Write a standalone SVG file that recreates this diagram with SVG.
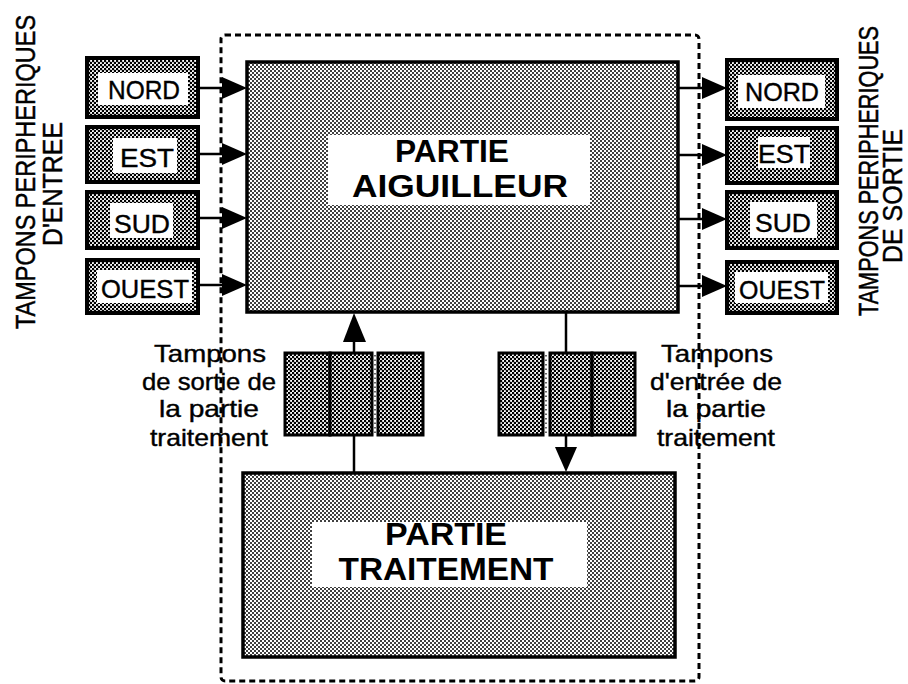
<svg xmlns="http://www.w3.org/2000/svg" width="908" height="684" viewBox="0 0 908 684">
<defs>
<pattern id="lt" width="4" height="4" patternUnits="userSpaceOnUse"><rect width="4" height="4" fill="#fff"/><circle cx="1" cy="1" r="1" fill="#000"/><circle cx="3" cy="3" r="1" fill="#000"/></pattern>
<pattern id="dk" width="4" height="4" patternUnits="userSpaceOnUse"><rect width="4" height="4" fill="#fff"/><circle cx="1" cy="1" r="1.3" fill="#000"/><circle cx="3" cy="3" r="1.3" fill="#000"/></pattern>
<style>
.big{fill:url(#lt);stroke:#000;stroke-width:3.5}
.buf{fill:url(#dk);stroke:#000;stroke-width:4}
.sb{fill:url(#dk);stroke:#000;stroke-width:3}
.win{fill:#fff}
.t{font-family:"Liberation Sans",Arial,sans-serif;fill:#000;stroke:#000;stroke-width:0.4}
.bt{font-family:"Liberation Sans",Arial,sans-serif;font-weight:bold;font-size:32px;fill:#000;text-anchor:middle}
.lb{font-size:24px;text-anchor:middle}
.bl{font-size:26px;text-anchor:middle}
.vt{font-size:21.7px;text-anchor:middle}
.vl{font-size:23.5px;text-anchor:middle}
.vs{font-size:25px;text-anchor:middle}
.ln{stroke:#000;stroke-width:2.5;fill:none}
.ah{fill:#000}
.dash{fill:none;stroke:#000;stroke-width:3;stroke-dasharray:6 4}
.dot{stroke:#000;stroke-width:1.2;stroke-dasharray:1.5 3}
</style>
</defs>
<rect width="908" height="684" fill="#fff"/>

<g id="boundary"><rect class="dash" x="221" y="35" width="478" height="646" rx="4"/></g>

<g id="aiguilleur">
<rect class="big" x="247" y="62" width="431" height="250"/>
<rect class="win" x="328" y="135" width="262" height="70"/>
<text class="bt" x="452" y="162" textLength="114" lengthAdjust="spacingAndGlyphs">PARTIE</text>
<text class="bt" x="460" y="197" textLength="216" lengthAdjust="spacingAndGlyphs">AIGUILLEUR</text>
</g>

<g id="traitement">
<rect class="big" x="243" y="473" width="432" height="184"/>
<rect class="win" x="312" y="522" width="275" height="65"/>
<text class="bt" x="446" y="545" textLength="122" lengthAdjust="spacingAndGlyphs">PARTIE</text>
<text class="bt" x="446" y="580" textLength="215" lengthAdjust="spacingAndGlyphs">TRAITEMENT</text>
</g>

<g id="in-nord"><rect class="buf" x="87" y="58" width="111" height="59"/><rect class="win" x="98" y="73" width="90" height="32"/><text class="t bl" x="144" y="99" textLength="72" lengthAdjust="spacingAndGlyphs">NORD</text></g>
<g id="in-est"><rect class="buf" x="87" y="127" width="111" height="55"/><rect class="win" x="113" y="138" width="64" height="35"/><text class="t bl" x="147" y="167" textLength="54" lengthAdjust="spacingAndGlyphs">EST</text></g>
<g id="in-sud"><rect class="buf" x="87" y="192" width="111" height="56"/><rect class="win" x="110" y="203" width="63" height="35"/><text class="t bl" x="142" y="233" textLength="56" lengthAdjust="spacingAndGlyphs">SUD</text></g>
<g id="in-ouest"><rect class="buf" x="87" y="260" width="111" height="53"/><rect class="win" x="97" y="270" width="95" height="33"/><text class="t bl" x="145" y="298" textLength="88" lengthAdjust="spacingAndGlyphs">OUEST</text></g>

<g id="out-nord"><rect class="buf" x="727" y="60" width="110" height="59"/><rect class="win" x="738" y="75" width="87" height="33"/><text class="t bl" x="782" y="101" textLength="74" lengthAdjust="spacingAndGlyphs">NORD</text></g>
<g id="out-est"><rect class="buf" x="727" y="128" width="110" height="55"/><rect class="win" x="758" y="137" width="52" height="31"/><text class="t bl" x="784" y="163" textLength="52" lengthAdjust="spacingAndGlyphs">EST</text></g>
<g id="out-sud"><rect class="buf" x="727" y="192" width="110" height="56"/><rect class="win" x="750" y="202" width="67" height="36"/><text class="t bl" x="783" y="232" textLength="56" lengthAdjust="spacingAndGlyphs">SUD</text></g>
<g id="out-ouest"><rect class="buf" x="727" y="262" width="110" height="51"/><rect class="win" x="735" y="272" width="93" height="31"/><text class="t bl" x="782" y="299" textLength="86" lengthAdjust="spacingAndGlyphs">OUEST</text></g>

<g id="tampons-sortie-traitement">
<rect class="sb" x="285" y="353" width="45" height="82"/>
<rect class="sb" x="330" y="353" width="42" height="82"/>
<line class="dot" x1="375" y1="355" x2="375" y2="433"/>
<rect class="sb" x="378" y="353" width="45" height="82"/>
</g>
<g id="tampons-entree-traitement">
<rect class="sb" x="499" y="353" width="44" height="82"/>
<line class="dot" x1="546" y1="355" x2="546" y2="433"/>
<rect class="sb" x="550" y="353" width="42" height="82"/>
<rect class="sb" x="592" y="353" width="43" height="82"/>
</g>

<g id="labels">
<g id="label-entree">
<text class="t vl" transform="translate(35,172) rotate(-90) scale(1,1.15)">TAMPONS PERIPHERIQUES</text>
<text class="t vs" transform="translate(62,184) rotate(-90) scale(1,1.1)">D'ENTREE</text>
</g>
<g id="label-sortie">
<text class="t vt" transform="translate(878,171) rotate(-90) scale(1,1.25)">TAMPONS PERIPHERIQUES</text>
<text class="t vs" transform="translate(902,196) rotate(-90) scale(1,1.1)">DE SORTIE</text>
</g>
<g id="label-sortie-traitement">
<text class="t lb" x="210" y="362" textLength="112" lengthAdjust="spacingAndGlyphs">Tampons</text>
<text class="t lb" x="209" y="390" textLength="134" lengthAdjust="spacingAndGlyphs">de sortie de</text>
<text class="t lb" x="209" y="417" textLength="100" lengthAdjust="spacingAndGlyphs">la partie</text>
<text class="t lb" x="209" y="446" textLength="118" lengthAdjust="spacingAndGlyphs">traitement</text>
</g>
<g id="label-entree-traitement">
<text class="t lb" x="717" y="362" textLength="112" lengthAdjust="spacingAndGlyphs">Tampons</text>
<text class="t lb" x="716" y="390" textLength="132" lengthAdjust="spacingAndGlyphs">d'entrée de</text>
<text class="t lb" x="716" y="417" textLength="100" lengthAdjust="spacingAndGlyphs">la partie</text>
<text class="t lb" x="716" y="446" textLength="118" lengthAdjust="spacingAndGlyphs">traitement</text>
</g>
</g>

<g id="connectors">
<line class="ln" x1="198" y1="88" x2="224" y2="88"/><polygon class="ah" points="222,77 247,88 222,99"/>
<line class="ln" x1="198" y1="154" x2="224" y2="154"/><polygon class="ah" points="222,143 247,154 222,165"/>
<line class="ln" x1="198" y1="218" x2="224" y2="218"/><polygon class="ah" points="222,207 247,218 222,229"/>
<line class="ln" x1="198" y1="285" x2="224" y2="285"/><polygon class="ah" points="222,274 247,285 222,296"/>
<line class="ln" x1="678" y1="88" x2="704" y2="88"/><polygon class="ah" points="702,77 727,88 702,99"/>
<line class="ln" x1="678" y1="155" x2="704" y2="155"/><polygon class="ah" points="702,144 727,155 702,166"/>
<line class="ln" x1="678" y1="219" x2="704" y2="219"/><polygon class="ah" points="702,208 727,219 702,230"/>
<line class="ln" x1="678" y1="286" x2="704" y2="286"/><polygon class="ah" points="702,275 727,286 702,297"/>
<line class="ln" x1="354" y1="473" x2="354" y2="435"/>
<line class="ln" x1="354" y1="353" x2="354" y2="340"/><polygon class="ah" points="343,342 354,313 366,342"/>
<line class="ln" x1="566" y1="313" x2="566" y2="353"/>
<line class="ln" x1="566" y1="435" x2="566" y2="449"/><polygon class="ah" points="555,447 566,472 577,447"/>
</g>
</svg>
